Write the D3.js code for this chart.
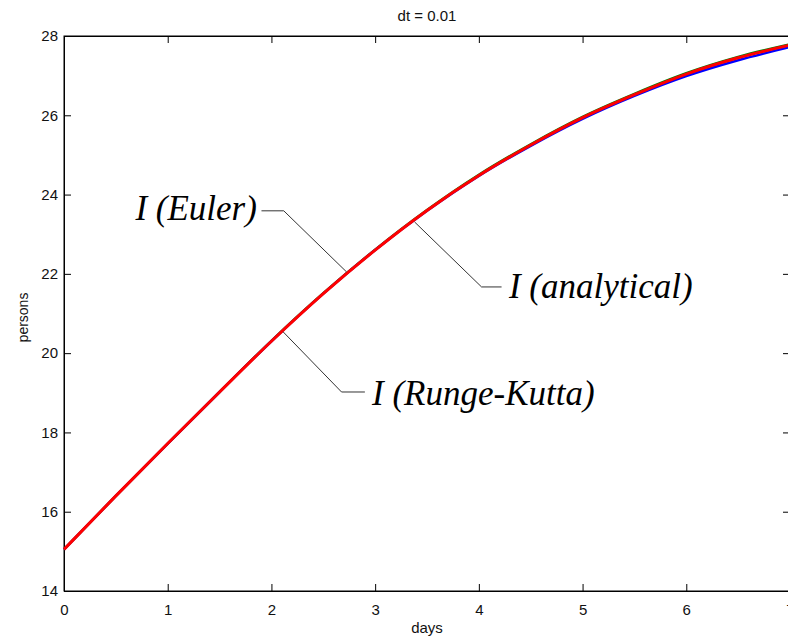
<!DOCTYPE html>
<html>
<head>
<meta charset="utf-8">
<script src="https://cdn.jsdelivr.net/npm/d3@7"></script>
<style>
  body { margin: 0; background: #fff; }
  svg { display: block; }
</style>
</head>
<body>
<div id="chart"></div>
<script>
// time in days
const days = [0, 0.5, 1, 1.5, 2, 2.5, 3, 3.5, 4, 4.5, 5, 5.5, 6, 6.5, 7];
// infected persons, three solution methods (nearly identical)
const iEuler =      [15.05, 16.40, 17.72, 19.02, 20.31, 21.51, 22.61, 23.61, 24.50, 25.27, 25.96, 26.54, 27.06, 27.47, 27.79];
const iRungeKutta = [15.05, 16.40, 17.72, 19.02, 20.30, 21.50, 22.60, 23.59, 24.47, 25.23, 25.91, 26.49, 26.99, 27.39, 27.72];
const iAnalytical = [15.05, 16.40, 17.72, 19.02, 20.30, 21.50, 22.60, 23.60, 24.48, 25.25, 25.94, 26.52, 27.04, 27.45, 27.77];

const xTicks = [0, 1, 2, 3, 4, 5, 6, 7];
const yTicks = [14, 16, 18, 20, 22, 24, 26, 28];

// labels with leader lines, in data units: point on curve, elbow, end of line, text anchor
const notes = [
  {text: 'I (Euler)',       pt: [2.724, 22.05], elbow: [2.119, 23.59], end: [1.904, 23.59], txt: [1.86, 23.35], anchor: 'end'},
  {text: 'I (analytical)',  pt: [3.380, 23.31], elbow: [4.026, 21.67], end: [4.219, 21.67], txt: [4.29, 21.38], anchor: 'start'},
  {text: 'I (Runge-Kutta)', pt: [2.112, 20.54], elbow: [2.676, 19.02], end: [2.901, 19.02], txt: [2.97, 18.69], anchor: 'start'}
];

const width = 788;
const height = 639;
const margin = {top: 36, right: -2, bottom: 48, left: 64};

const svg = d3.select('#chart')
  .append('svg')
  .attr('width', width)
  .attr('height', height);

const x = d3.scaleLinear()
  .domain([0, 7])
  .range([margin.left, width - margin.right]);

const y = d3.scaleLinear()
  .domain([14, 28])
  .range([height - margin.bottom, margin.top]);

const font = '"Liberation Sans", Arial, sans-serif';

// box
svg.append('rect')
  .attr('x', x(0))
  .attr('y', y(28))
  .attr('width', x(7) - x(0))
  .attr('height', y(14) - y(28))
  .attr('fill', 'none')
  .attr('stroke', '#000')
  .attr('stroke-width', 1);

// axes with inward ticks
const bottomAxis = d3.axisBottom(x).tickValues(xTicks).tickSize(-7).tickPadding(13).tickFormat(d3.format('d'));
const leftAxis = d3.axisLeft(y).tickValues(yTicks).tickSize(-7).tickPadding(6).tickFormat(d3.format('d'));
const topAxis = d3.axisTop(x).tickValues(xTicks).tickSize(-7).tickFormat('');
const rightAxis = d3.axisRight(y).tickValues(yTicks).tickSize(-7).tickFormat('');

function styleAxis(g) {
  g.select('.domain').attr('stroke', '#000');
  g.selectAll('.tick line').attr('stroke', '#000');
  g.selectAll('.tick text')
    .attr('fill', '#111')
    .style('font-family', font)
    .style('font-size', '15px');
}

svg.append('g').attr('transform', `translate(0,${y(14)})`).call(bottomAxis).call(styleAxis);
svg.append('g').attr('transform', `translate(${x(0)},0)`).call(leftAxis).call(styleAxis);
svg.append('g').attr('transform', `translate(0,${y(28)})`).call(topAxis).call(styleAxis);
svg.append('g').attr('transform', `translate(${x(7)},0)`).call(rightAxis).call(styleAxis);

// curves
const line = d3.line()
  .x((d, i) => x(days[i]))
  .y((d) => y(d))
  .curve(d3.curveMonotoneX);

const series = [
  {values: iEuler, color: '#008000', w: 2.5},
  {values: iRungeKutta, color: '#0000ff', w: 2.5},
  {values: iAnalytical, color: '#ff0000', w: 3}
];

svg.append('g')
  .selectAll('path')
  .data(series)
  .enter()
  .append('path')
  .attr('d', (d) => line(d.values))
  .attr('fill', 'none')
  .attr('stroke', (d) => d.color)
  .attr('stroke-width', (d) => d.w);

// annotations
const noteGroup = svg.append('g').attr('class', 'notes');
notes.forEach((n) => {
  noteGroup.append('polyline')
    .attr('points', [n.pt, n.elbow, n.end].map((p) => `${x(p[0])},${y(p[1])}`).join(' '))
    .attr('fill', 'none')
    .attr('stroke', '#333')
    .attr('stroke-width', 1);
  noteGroup.append('text')
    .attr('x', x(n.txt[0]))
    .attr('y', y(n.txt[1]))
    .attr('text-anchor', n.anchor)
    .style('font-family', '"Liberation Serif", "Times New Roman", serif')
    .style('font-style', 'italic')
    .style('font-size', '35px')
    .attr('fill', '#000')
    .text(n.text);
});

// title and axis labels
svg.append('text')
  .attr('x', (x(0) + x(7)) / 2)
  .attr('y', 21)
  .attr('text-anchor', 'middle')
  .style('font-family', font)
  .style('font-size', '15px')
  .attr('fill', '#111')
  .text('dt = 0.01');

svg.append('text')
  .attr('x', (x(0) + x(7)) / 2)
  .attr('y', 633)
  .attr('text-anchor', 'middle')
  .style('font-family', font)
  .style('font-size', '15px')
  .attr('fill', '#111')
  .text('days');

svg.append('text')
  .attr('transform', `translate(28,${(y(14) + y(28)) / 2 + 4}) rotate(-90)`)
  .attr('text-anchor', 'middle')
  .style('font-family', font)
  .style('font-size', '14px')
  .attr('fill', '#111')
  .text('persons');
</script>
</body>
</html>
